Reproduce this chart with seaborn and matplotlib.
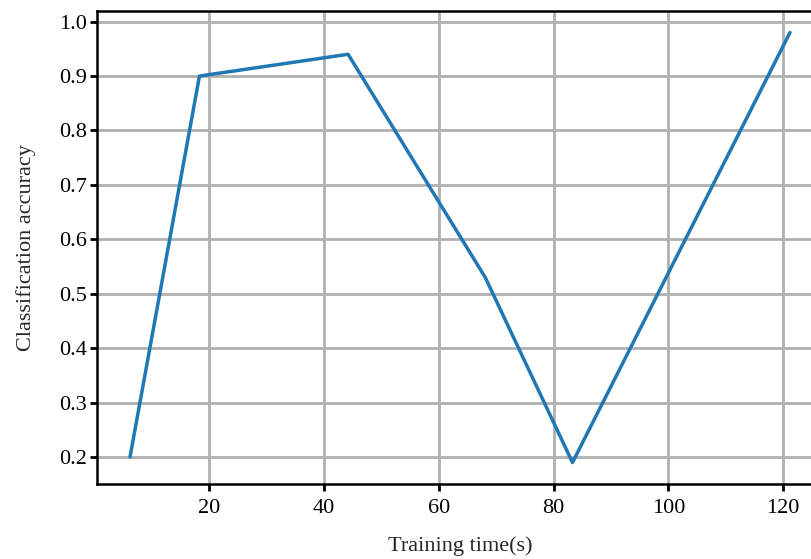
import pandas as pd
import seaborn as sns
import matplotlib
matplotlib.use("Agg")
import matplotlib.pyplot as plt

# values
train_time = [6.2, 18.3, 44.2, 68.1, 83.3, 121.2]
accuracy = [0.20, 0.90, 0.94, 0.53, 0.19, 0.98]


def plot_accuracy(output_file="out.png"):
    sns.set_style("white")
    plt.rcParams["font.family"] = ["Liberation Serif", "DejaVu Serif"]

    data = pd.DataFrame({"time": train_time, "acc": accuracy})

    fig = plt.figure(figsize=(8.12, 5.59), dpi=100)
    # axes run past the right edge of the figure, as in the reference
    ax = fig.add_axes([97 / 812, 1 - 484 / 559, (823 - 97) / 812, (484 - 11) / 559])

    sns.lineplot(data=data, x="time", y="acc", color="#1f77b4", linewidth=2.5, ax=ax)

    ax.grid(True, color="#b0b0b0", linewidth=2)
    ax.set_axisbelow(True)
    for side in ["left", "bottom", "top", "right"]:
        ax.spines[side].set_color("black")
        ax.spines[side].set_linewidth(1.8)
    ax.tick_params(axis="both", direction="out", length=5, width=2,
                   color="black", labelsize=16, labelcolor="black",
                   bottom=True, left=True)
    ax.tick_params(axis="x", pad=6)
    ax.tick_params(axis="y", pad=2.5)
    ax.set_xticks([20, 40, 60, 80, 100, 120])
    ax.set_yticks([0.2, 0.3, 0.4, 0.5, 0.6, 0.7, 0.8, 0.9, 1.0])
    ax.set_xlabel("Training time(s)", fontsize=16, labelpad=13)
    ax.set_ylabel("Classification accuracy", fontsize=16, labelpad=16)

    fig.savefig(output_file, dpi=100)


def main():
    plot_accuracy("out.png")


if __name__ == "__main__":
    main()
